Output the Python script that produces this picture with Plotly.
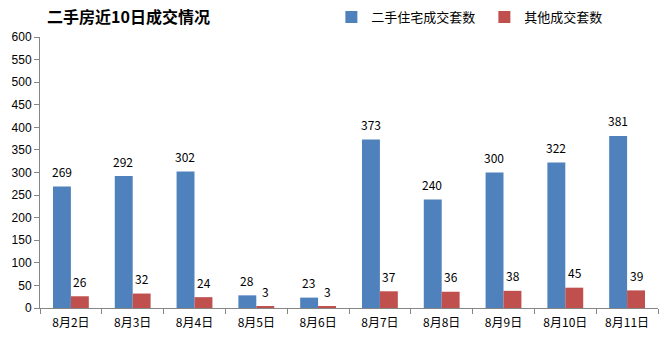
import plotly.graph_objects as go

# Daily transaction counts for the last 10 days
dates = ["8月2日", "8月3日", "8月4日", "8月5日", "8月6日",
         "8月7日", "8月8日", "8月9日", "8月10日", "8月11日"]
residential = [269, 292, 302, 28, 23, 373, 240, 300, 322, 381]
other = [26, 32, 24, 3, 3, 37, 36, 38, 45, 39]

blue = "#4F81BD"
red = "#C0504D"
cjk = "Noto Sans CJK SC"

fig = go.Figure()
fig.add_trace(go.Bar(name="二手住宅成交套数", x=dates, y=residential,
                     marker=dict(color=blue, line=dict(width=0))))
fig.add_trace(go.Bar(name="其他成交套数", x=dates, y=other,
                     marker=dict(color=red, line=dict(width=0))))

# Value labels above each bar
annotations = []
for i, d in enumerate(dates):
    for vals, off in ((residential, -0.15), (other, 0.15)):
        annotations.append(dict(
            x=i + off, y=vals[i], xref="x", yref="y",
            text=str(vals[i]), showarrow=False, yshift=15,
            font=dict(family=cjk, size=12, color="#000000")))

fig.update_layout(
    width=666, height=337,
    margin=dict(l=40, r=8, t=37, b=29, autoexpand=False),
    paper_bgcolor="white", plot_bgcolor="white",
    barmode="group", bargap=0.42, bargroupgap=0,
    title=dict(text="<b>二手房近10日成交情况</b>", x=47 / 666, xanchor="left",
               y=1 - 17 / 337, yanchor="middle",
               font=dict(family=cjk, size=16, color="#000000")),
    legend=dict(orientation="h", x=314 / 666, xanchor="left",
                y=1 - 17 / 337, yanchor="middle", yref="container",
                font=dict(family=cjk, size=13, color="#000000"),
                itemwidth=30, tracegroupgap=0,
                entrywidth=108, entrywidthmode="pixels"),
    annotations=annotations,
    font=dict(family=cjk, size=12, color="#000000"),
)
fig.update_xaxes(
    type="category", showline=True, linecolor="#868686", linewidth=1,
    ticks="outside", ticklen=5, tickcolor="#868686", tickson="boundaries",
    showgrid=False, ticklabelstandoff=4,
    tickfont=dict(family=cjk, size=12, color="#000000"),
)
fig.update_yaxes(
    range=[0, 600], dtick=50, showline=True, linecolor="#868686", linewidth=1,
    ticks="outside", ticklen=5, tickcolor="#868686", showgrid=False,
    zeroline=False, tickfont=dict(family="Liberation Sans", size=12, color="#000000"),
)

fig.write_html("out.html")
